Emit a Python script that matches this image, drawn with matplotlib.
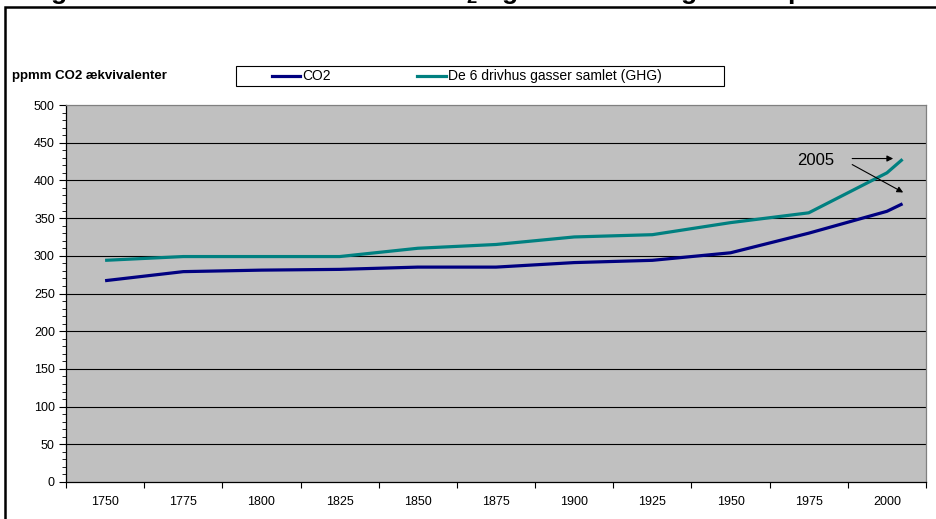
import matplotlib
matplotlib.use("Agg")
import matplotlib.pyplot as plt
from matplotlib.patches import Rectangle
from matplotlib.lines import Line2D
from matplotlib.ticker import MultipleLocator

plt.rcParams['font.family'] = ['Liberation Sans', 'DejaVu Sans']
plt.rcParams['mathtext.default'] = 'regular'

# Concentrations in ppm (CO2-equivalents)
years = [1750, 1775, 1800, 1825, 1850, 1875, 1900, 1925, 1950, 1975, 2000, 2005]
co2 = [267, 279, 281, 282, 285, 285, 291, 294, 304, 330, 359, 369]
ghg = [294, 299, 299, 299, 310, 315, 325, 328, 344, 357, 410, 428]
tick_years = [1750, 1775, 1800, 1825, 1850, 1875, 1900, 1925, 1950, 1975, 2000]

title = "Figur 2.1 Total koncentration af CO$_2$ og de 6 drivhusgasser i perioden 1750-2005"
ylabel = "ppmm CO2 ækvivalenter"
labels = ["CO2", "De 6 drivhus gasser samlet (GHG)"]
colors = ["#000080", "#008080"]

W, H = 936, 519
fig = plt.figure(figsize=(W / 100, H / 100), dpi=100)

# outer chart frame (runs off the right and bottom edges)
fig.patches.append(Rectangle((5 / W, -0.1), 1.2, 1 - 7 / H + 0.1, transform=fig.transFigure,
                             fill=False, edgecolor="black", linewidth=1.8))

# heading sits above the top edge, only its lower part is on the page
fig.text(27 / W, 1 + 0.5 / H, title, fontsize=19, fontweight="bold", va="baseline", ha="left")

ax = fig.add_axes([66 / W, 1 - 482 / H, (926 - 66) / W, (482 - 105) / H])
ax.set_facecolor("#C0C0C0")

ax.plot(years, ghg, color=colors[1], linewidth=2.3, solid_capstyle="butt")
ax.plot(years, co2, color=colors[0], linewidth=2.3, solid_capstyle="butt")

ax.set_xlim(1737.5, 2012.5)
ax.set_ylim(0, 500)

# category-style x axis: ticks between years, labels centred
ax.set_xticks([y - 12.5 for y in tick_years] + [2012.5])
ax.set_xticklabels([])
ax.set_xticks(tick_years, minor=True)
ax.set_xticklabels([str(y) for y in tick_years], minor=True)
ax.tick_params(axis="x", which="major", direction="out", length=4, width=0.8, color="black")
ax.tick_params(axis="x", which="minor", length=0, pad=10, labelsize=9)

ax.yaxis.set_major_locator(MultipleLocator(50))
ax.yaxis.set_minor_locator(MultipleLocator(10))
ax.tick_params(axis="y", which="major", direction="out", length=5, width=0.8, labelsize=9, pad=3)
ax.tick_params(axis="y", which="minor", direction="out", length=3, width=0.6)

for v in range(50, 500, 50):
    ax.axhline(v, color="black", linewidth=0.8, zorder=1)

for s in ["left", "bottom"]:
    ax.spines[s].set_color("black")
    ax.spines[s].set_linewidth(0.9)
for s in ["top", "right"]:
    ax.spines[s].set_color("#808080")
    ax.spines[s].set_linewidth(0.9)

# 2005 annotation
ax.text(1977.3, 427, "2005", fontsize=12, ha="center", va="center")
ax.annotate("", xy=(2002.0, 429), xytext=(1988.9, 429),
            arrowprops=dict(arrowstyle="-|>", color="black", lw=0.8, mutation_scale=9,
                            shrinkA=0, shrinkB=0))
ax.annotate("", xy=(2005.2, 384), xytext=(1988.9, 421),
            arrowprops=dict(arrowstyle="-|>", color="black", lw=0.8, mutation_scale=9,
                            shrinkA=0, shrinkB=0))

# axis caption and legend above the plot
fig.text(12 / W, 1 - 76 / H, ylabel, fontsize=9.5, fontweight="bold", va="center", ha="left")
fig.patches.append(Rectangle((236 / W, 1 - 86 / H), (724 - 236) / W, 20 / H,
                             transform=fig.transFigure, fill=False, edgecolor="black", linewidth=0.8))
for (x0, x1, tx), lab, c in zip([(272, 300, 302), (417, 446, 448)], labels, colors):
    fig.lines.append(Line2D([x0 / W, x1 / W], [1 - 76 / H] * 2, transform=fig.transFigure,
                            color=c, linewidth=2.3))
    fig.text(tx / W, 1 - 76 / H, lab, fontsize=10, va="center", ha="left")

fig.savefig("out.png", dpi=100)
